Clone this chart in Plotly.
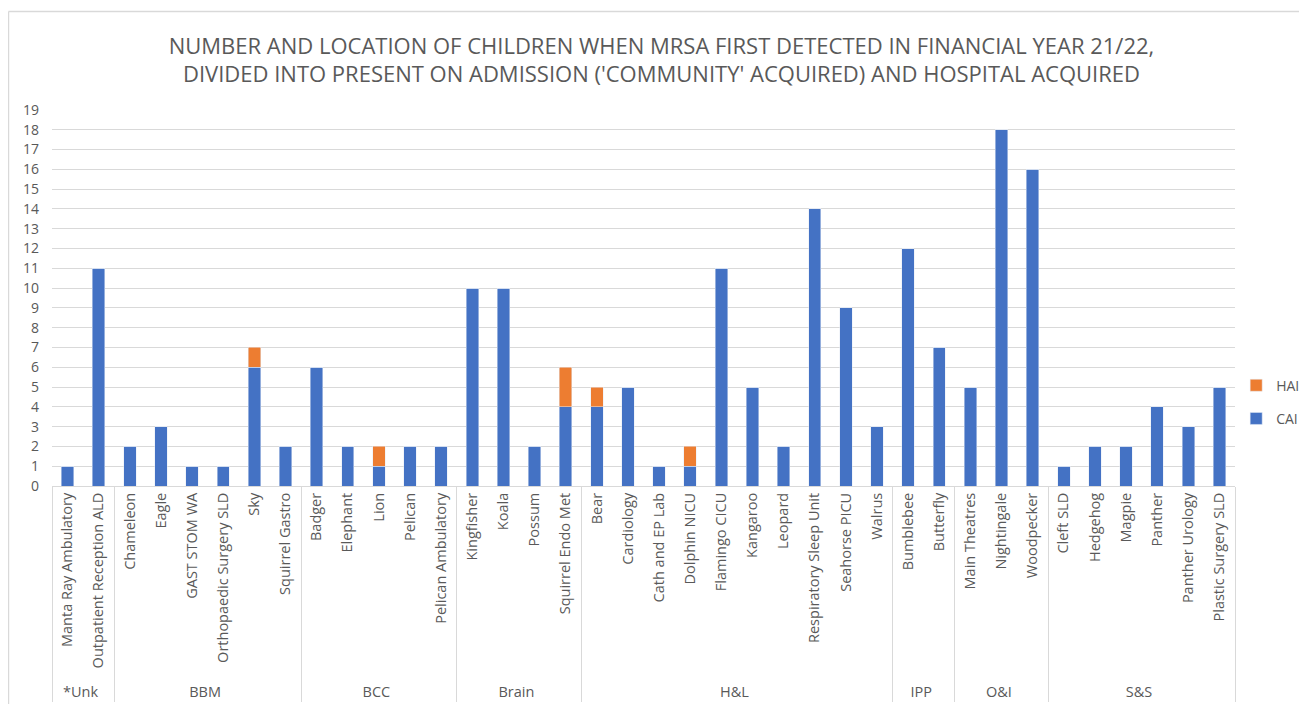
import plotly.graph_objects as go

groups = ["*Unk"]*2 + ["BBM"]*6 + ["BCC"]*5 + ["Brain"]*4 + ["H&L"]*10 + ["IPP"]*2 + ["O&I"]*3 + ["S&S"]*6
wards = [
    "Manta Ray Ambulatory", "Outpatient Reception ALD",
    "Chameleon", "Eagle", "GAST STOM WA", "Orthopaedic Surgery SLD", "Sky", "Squirrel Gastro",
    "Badger", "Elephant", "Lion", "Pelican", "Pelican Ambulatory",
    "Kingfisher", "Koala", "Possum", "Squirrel Endo Met",
    "Bear", "Cardiology", "Cath and EP Lab", "Dolphin NICU", "Flamingo CICU", "Kangaroo",
    "Leopard", "Respiratory Sleep Unit", "Seahorse PICU", "Walrus",
    "Bumblebee", "Butterfly",
    "Main Theatres", "Nightingale", "Woodpecker",
    "Cleft SLD", "Hedgehog", "Magpie", "Panther", "Panther Urology", "Plastic Surgery SLD",
]
cai = [1, 11,
       2, 3, 1, 1, 6, 2,
       6, 2, 1, 2, 2,
       10, 10, 2, 4,
       4, 5, 1, 1, 11, 5, 2, 14, 9, 3,
       12, 7,
       5, 18, 16,
       1, 2, 2, 4, 3, 5]
hai = [0, 0,
       0, 0, 0, 0, 1, 0,
       0, 0, 1, 0, 0,
       0, 0, 0, 2,
       1, 0, 0, 1, 0, 0, 0, 0, 0, 0,
       0, 0,
       0, 0, 0,
       0, 0, 0, 0, 0, 0]
y_ticks = list(range(0, 20))

title_text = ("NUMBER AND LOCATION OF CHILDREN WHEN MRSA FIRST DETECTED IN FINANCIAL YEAR 21/22,<br>"
              "DIVIDED INTO PRESENT ON ADMISSION ('COMMUNITY' ACQUIRED) AND HOSPITAL ACQUIRED")

FONT = "Open Sans, Segoe UI, Calibri, sans-serif"
GREY = "#595959"
LIGHT = "#D9D9D9"

fig = go.Figure()
fig.add_trace(go.Bar(x=[groups, wards], y=cai, name="CAI", marker_color="#4472C4",
                     legendgroup="cai", legendrank=2))
fig.add_trace(go.Bar(x=[groups, wards], y=hai, name="HAI", marker_color="#ED7D31",
                     legendgroup="hai", legendrank=1))

fig.update_layout(
    width=1307, height=704,
    barmode="stack", bargap=0.6,
    plot_bgcolor="white", paper_bgcolor="white",
    margin=dict(l=44, r=80, t=102, b=226, autoexpand=False),
    font=dict(family=FONT, color=GREY, size=14),
    title=dict(text=title_text, x=0.5, xanchor="center", y=0.935, yanchor="top",
               font=dict(family=FONT, size=22, color=GREY)),
    legend=dict(traceorder="grouped", x=1.001, xanchor="left", y=0.223, yanchor="middle",
                font=dict(size=14, color=GREY), tracegroupgap=12),
    showlegend=True,
    shapes=[
        dict(type="line", xref="paper", yref="paper", x0=-0.0368, x1=-0.0368, y0=-0.62, y1=1.262,
             line=dict(color=LIGHT, width=1.5)),
        dict(type="line", xref="paper", yref="paper", x0=-0.0368, x1=1.08, y0=1.262, y1=1.262,
             line=dict(color=LIGHT, width=1.5)),
    ],
)
fig.update_yaxes(range=[0, 19], tickvals=y_ticks, showgrid=True, gridcolor=LIGHT,
                 zeroline=False, showline=False, tickfont=dict(size=14, color=GREY),
                 ticks="", ticklen=0, ticklabelstandoff=12)
fig.update_xaxes(type="multicategory", tickangle=-90, showline=True, linecolor=LIGHT,
                 showdividers=True, dividercolor=LIGHT, dividerwidth=1,
                 tickfont=dict(size=14.5, color=GREY), showgrid=False)

fig.write_html("out.html")
